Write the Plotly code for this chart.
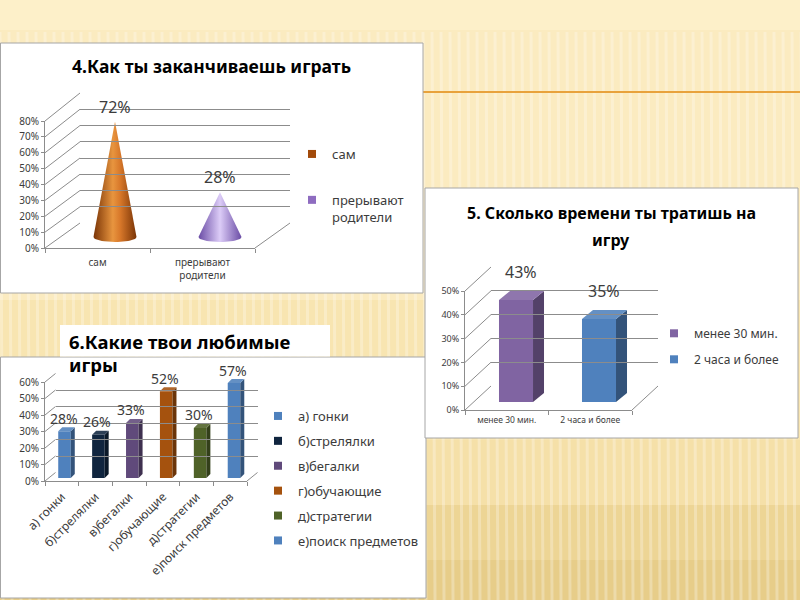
import numpy as np
import plotly.graph_objects as go

W, H = 800, 600

# ---- data -------------------------------------------------------------
q4_title = "4.Как ты заканчиваешь играть"
q4_categories = ["сам", "прерывают<br>родители"]
q4_values = [0.72, 0.28]
q4_labels = ["72%", "28%"]
q4_ticks = [0, 0.1, 0.2, 0.3, 0.4, 0.5, 0.6, 0.7, 0.8]

q5_title = ["5. Сколько времени ты тратишь на", "игру"]
q5_categories = ["менее 30 мин.", "2 часа и более"]
q5_values = [0.43, 0.35]
q5_labels = ["43%", "35%"]
q5_ticks = [0, 0.1, 0.2, 0.3, 0.4, 0.5]

q6_title = ["6.Какие твои любимые", "игры"]
q6_categories = ["а) гонки", "б)стрелялки", "в)бегалки", "г)обучающие",
                 "д)стратегии", "е)поиск предметов"]
q6_values = [0.28, 0.26, 0.33, 0.52, 0.30, 0.57]
q6_labels = ["28%", "26%", "33%", "52%", "30%", "57%"]
q6_ticks = [0, 0.1, 0.2, 0.3, 0.4, 0.5, 0.6]

# ---- colours ----------------------------------------------------------
q4_colors = ["#A24A0A", "#8E6CC0"]
q4_gradients = [
    [[0, "#7A3406"], [0.45, "#E8953F"], [0.62, "#D8782A"], [1, "#7A3406"]],
    [[0, "#6A4CA5"], [0.5, "#DCCCF7"], [1, "#6A4CA5"]],
]
q5_colors = ["#8064A2", "#4F81BD"]
q6_colors = ["#4F81BD", "#10253F", "#604A7B", "#A5520E", "#4F6228", "#4F81BD"]

FONT = "Noto Sans"
TXT = "#3C3C3C"
GRID = "#8C8C8C"


def shade(hex_color, f):
    h = hex_color.lstrip("#")
    r, g, b = (int(h[i:i + 2], 16) for i in (0, 2, 4))
    if f < 0:
        r, g, b = (int(c * (1 + f)) for c in (r, g, b))
    else:
        r, g, b = (int(c + (255 - c) * f) for c in (r, g, b))
    return f"#{r:02x}{g:02x}{b:02x}"


def px(x):
    return x / W


def py(y):
    return 1 - y / H


fig = go.Figure()
axes = {}
shapes = []
annotations = []


def pair(n, x0, x1, ybot, ytop, xr, yr, xkw=None, ykw=None):
    s = "" if n == 1 else str(n)
    base = dict(fixedrange=True, showgrid=False, zeroline=False,
                showticklabels=False, ticks="", showline=False)
    xa = dict(base, domain=[px(x0), px(x1)], anchor="y" + s, range=xr)
    ya = dict(base, domain=[py(ybot), py(ytop)], anchor="x" + s, range=yr)
    xa.update(xkw or {})
    ya.update(ykw or {})
    axes["xaxis" + s] = xa
    axes["yaxis" + s] = ya
    fig.add_trace(go.Scatter(x=[None], y=[None], xaxis="x" + s, yaxis="y" + s,
                             showlegend=False, hoverinfo="skip"))
    return "x" + s, "y" + s


def line(x0, y0, x1, y1, color=GRID, width=1):
    shapes.append(dict(type="line", xref="paper", yref="paper", layer="below",
                       x0=px(x0), y0=py(y0), x1=px(x1), y1=py(y1),
                       line=dict(color=color, width=width)))


def rect(x0, y0, x1, y1, fill, border=None):
    shapes.append(dict(type="rect", xref="paper", yref="paper", layer="below",
                       x0=px(x0), y0=py(y0), x1=px(x1), y1=py(y1), fillcolor=fill,
                       line=dict(color=border or fill, width=1 if border else 0)))


def text(x, y, s, size, color="black", anchor="center"):
    annotations.append(dict(x=px(x), y=py(y), xref="paper", yref="paper",
                            xanchor=anchor, yanchor="middle", text=s,
                            showarrow=False, font=dict(size=size, color=color)))


def walls(front, back, ticks, fr_x, bk_x):
    vmax = ticks[-1]
    for v in ticks:
        yf = front[1] + (front[2] - front[1]) * v / vmax
        yb = back[1] + (back[2] - back[1]) * v / vmax
        line(front[0], yf, back[0], yb)
    line(fr_x, front[1], bk_x, back[1])


def grid_kw(ticks):
    return dict(showgrid=True, gridcolor=GRID, gridwidth=1, tickvals=ticks)


def label_kw(ticks, size):
    return dict(tickvals=ticks, tickformat=".0%", showticklabels=True, showline=True,
                linecolor=GRID, ticks="outside", ticklen=3, tickcolor=GRID,
                tickfont=dict(size=size, color=TXT))


def cat_kw(cats, size, angle=0, standoff=0):
    n = len(cats)
    return dict(tickvals=list(range(n)), ticktext=cats, showticklabels=True,
                showline=True, linecolor=GRID, tickangle=angle,
                ticklabelstandoff=standoff, tickfont=dict(size=size, color=TXT),
                minor=dict(tickvals=[i - 0.5 for i in range(n + 1)], ticks="outside",
                           ticklen=4, tickcolor=GRID))


def legend_item(name, color, legend, xa, ya, group):
    fig.add_trace(go.Scatter(x=[None], y=[None], mode="markers", name=name,
                             marker=dict(symbol="square", size=8, color=color),
                             legend=legend, legendgroup=group, xaxis=xa, yaxis=ya,
                             hoverinfo="skip"))


def bar3d(xa, ya, i, v, color, hw, ddx, ddy):
    fig.add_trace(go.Bar(x=[i], y=[v], width=2 * hw, xaxis=xa, yaxis=ya,
                         marker=dict(color=color, line=dict(width=0)),
                         showlegend=False, hoverinfo="skip"))
    fig.add_trace(go.Scatter(x=[i + hw, i + hw + ddx, i + hw + ddx, i + hw],
                             y=[0, ddy, v + ddy, v], fill="toself", mode="lines",
                             fillcolor=shade(color, -0.35), line=dict(width=0),
                             xaxis=xa, yaxis=ya, showlegend=False, hoverinfo="skip"))
    fig.add_trace(go.Scatter(x=[i - hw, i - hw + ddx, i + hw + ddx, i + hw],
                             y=[v, v + ddy, v + ddy, v], fill="toself", mode="lines",
                             fillcolor=shade(color, 0.12), line=dict(width=0),
                             xaxis=xa, yaxis=ya, showlegend=False, hoverinfo="skip"))


# ---- slide background ------------------------------------------------
for y0, y1, c in [(30, 300, "#FBEBC0"), (300, 440, "#F8E5B1"), (440, 505, "#F5E0A8"),
                  (505, 560, "#EDD595"), (560, 600, "#E7CD89")]:
    rect(0, y0, 800, y1, c)
for x in range(0, 806, 9):
    line(x, 32, x + 3, 600, color="rgba(255,255,255,0.28)", width=3)
line(423, 92, 800, 92, color="#E8A23C", width=2)

# panels
rect(0.5, 43, 423, 293, "white", "#A6A6A6")
rect(0.5, 357, 426, 598, "white", "#A6A6A6")
rect(425, 188, 798, 438, "white", "#A6A6A6")
rect(60, 325, 330, 356.5, "white")

# ---- chart 4 : cones -------------------------------------------------
xa1, ya1 = pair(1, 62.5, 272.5, 253, 109, [-0.5, 1.5], [-0.1, 0.8],
                dict(visible=False), dict(visible=False))
pair(2, 80, 290, 223, 93, [0, 1], [0, 0.8], None, grid_kw(q4_ticks))
pair(3, 45, 255, 248, 121, [-0.5, 1.5], [0, 0.8],
     cat_kw(q4_categories, 10, standoff=5), label_kw(q4_ticks, 10))
walls((45, 248, 121), (80, 223, 93), q4_ticks, 255, 290)

t = np.linspace(0, -np.pi, 25)
for i, (v, grad) in enumerate(zip(q4_values, q4_gradients)):
    hw, ry = 0.205, 0.031
    xs = [i - hw, i, i + hw] + list(i + hw * np.cos(t))
    ys = [0, v, 0] + list(ry * np.sin(t))
    fig.add_trace(go.Scatter(x=xs, y=ys, fill="toself", mode="lines",
                             fillgradient=dict(type="horizontal", colorscale=grad),
                             line=dict(width=0), xaxis=xa1, yaxis=ya1,
                             showlegend=False, hoverinfo="skip"))
    annotations.append(dict(x=i, y=v, xref=xa1, yref=ya1, text=q4_labels[i],
                            showarrow=False, yshift=15, font=dict(size=16, color=TXT)))
for i, name in enumerate(q4_categories):
    legend_item(name, q4_colors[i], "legend", xa1, ya1, f"q4_{i}")

text(211, 66, f"<b>{q4_title}</b>", 17.5)

# ---- chart 5 : time spent --------------------------------------------
xa2, ya2 = pair(4, 474.5, 640.5, 413.85, 283.5, [-0.5, 1.5], [-0.05, 0.5],
                dict(visible=False), dict(visible=False))
pair(5, 491, 658, 386, 267, [0, 1], [0, 0.5], None, grid_kw(q5_ticks))
pair(6, 465, 632, 410, 291, [-0.5, 1.5], [0, 0.5],
     cat_kw(q5_categories, 8.5, standoff=2), label_kw(q5_ticks, 9))
walls((465, 410, 291), (491, 386, 267), q5_ticks, 632, 658)

for i, v in enumerate(q5_values):
    bar3d(xa2, ya2, i, v, q5_colors[i], 0.205, 0.1325, 0.038)
    annotations.append(dict(x=i, y=v, xref=xa2, yref=ya2, text=q5_labels[i],
                            showarrow=False, yshift=28, xshift=5,
                            font=dict(size=16, color=TXT)))
for i, name in enumerate(q5_categories):
    legend_item(name, q5_colors[i], "legend2", xa2, ya2, f"q5_{i}")

for ty, s in zip([213, 240], q5_title):
    text(611, ty, f"<b>{s}</b>", 16)

# ---- chart 6 : favourite games ---------------------------------------
xa3, ya3 = pair(7, 47.55, 250.95, 486.3, 378, [-0.5, 5.5], [-0.05, 0.6],
                dict(visible=False), dict(visible=False))
pair(8, 55.5, 257.5, 472.5, 373.5, [0, 1], [0, 0.6], None, grid_kw(q6_ticks))
pair(9, 45, 247, 481, 382, [-0.5, 5.5], [0, 0.6],
     cat_kw(q6_categories, 12, -45, standoff=3), label_kw(q6_ticks, 10))
walls((45, 481, 382), (55.5, 472.5, 373.5), q6_ticks, 247, 257.5)

for i, v in enumerate(q6_values):
    bar3d(xa3, ya3, i, v, q6_colors[i], 0.185, 0.118, 0.024)
    annotations.append(dict(x=i, y=v, xref=xa3, yref=ya3, text=q6_labels[i],
                            showarrow=False, yshift=13, xshift=-1,
                            font=dict(size=14, color=TXT)))
for i, name in enumerate(q6_categories):
    legend_item(name, q6_colors[i], "legend3", xa3, ya3, f"q6_{i}")

for ty, s in zip([342, 365], q6_title):
    text(67, ty, f"<b>{s}</b>", 18.5, anchor="left")


def legend_box(x, y, gap, size=13):
    return dict(x=px(x), y=py(y), xanchor="left", yanchor="top",
                bgcolor="rgba(0,0,0,0)", font=dict(size=size, color=TXT),
                traceorder="grouped", tracegroupgap=gap, valign="top", itemwidth=30)


fig.update_layout(
    width=W, height=H, margin=dict(l=0, r=0, t=0, b=0, autoexpand=False),
    paper_bgcolor="#FDF0C9", plot_bgcolor="rgba(0,0,0,0)",
    font=dict(family=FONT, color=TXT), barmode="overlay",
    shapes=shapes, annotations=annotations, showlegend=True,
    legend=legend_box(292, 139, 26),
    legend2=legend_box(654, 319, 7, 12),
    legend3=legend_box(258, 401, 5),
    **axes,
)

fig.write_html("out.html", config={"displayModeBar": False},
               post_script="document.body.style.margin = '0px';")
